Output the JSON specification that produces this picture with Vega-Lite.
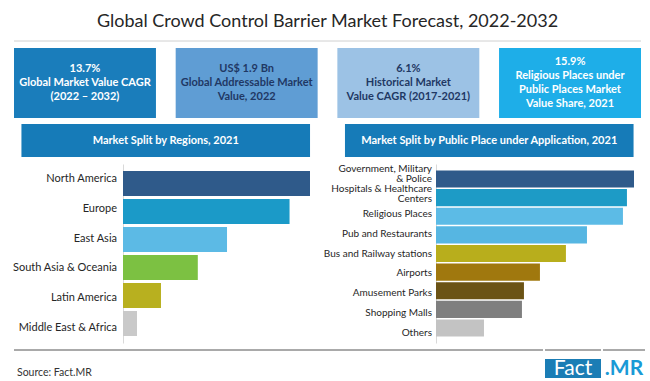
{
  "$schema": "https://vega.github.io/schema/vega-lite/v6.json",
  "background": "white",
  "padding": {"left": 12, "top": 0, "right": 11, "bottom": 0},
  "config": {"view": {"stroke": null}, "font": "Lato"},
  "spacing": 6,
  "resolve": {"scale": {"x": "independent", "y": "independent", "color": "independent", "fill": "independent"}},
  "vconcat": [
    {
      "width": 627,
      "height": 41,
      "data": {"values": [{"title": "Global Crowd Control Barrier Market Forecast, 2022-2032"}]},
      "layer": [
        {"mark": {"type": "text", "fontSize": 18, "color": "#262626", "baseline": "middle", "dy": 1.5}, "encoding": {"text": {"field": "title"}}},
        {"mark": {"type": "rule", "color": "#d0d0d0", "strokeWidth": 1}, "encoding": {"y": {"value": "height"}}}
      ]
    },
    {
      "width": 627,
      "height": 70,
      "data": {"values": [
        {"kpi": "cagr", "lines": ["13.7%", "Global Market Value CAGR", "(2022 – 2032)"]},
        {"kpi": "value", "lines": ["US$ 1.9 Bn", "Global Addressable Market", "Value, 2022"]},
        {"kpi": "hist", "lines": ["6.1%", "Historical Market", "Value CAGR (2017-2021)"]},
        {"kpi": "share", "lines": ["15.9%", "Religious Places under", "Public Places Market", "Value Share, 2021"]}
      ]},
      "encoding": {"x": {"field": "kpi", "type": "nominal", "sort": null, "axis": null, "scale": {"domain": ["cagr", "value", "hist", "share"], "paddingInner": 0.122, "paddingOuter": 0}}},
      "layer": [
        {"mark": {"type": "rect"}, "encoding": {"fill": {"field": "kpi", "type": "nominal", "legend": null, "scale": {"domain": ["cagr", "value", "hist", "share"], "range": ["#1a7dbb", "#5f9dd4", "#9cc2e5", "#1eaee8"]}}}},
        {
          "transform": [{"filter": "length(datum.lines) == 3"}],
          "mark": {"type": "text", "fontSize": 11, "fontWeight": "bold", "lineHeight": 14.3, "baseline": "middle", "dy": -14.3},
          "encoding": {"text": {"field": "lines"}, "color": {"field": "kpi", "type": "nominal", "legend": null, "scale": {"domain": ["cagr", "value", "hist", "share"], "range": ["#ffffff", "#1f3864", "#1f3864", "#ffffff"]}}}
        },
        {
          "transform": [{"filter": "length(datum.lines) == 4"}],
          "mark": {"type": "text", "fontSize": 11, "fontWeight": "bold", "lineHeight": 14.3, "baseline": "middle", "dy": -21.5},
          "encoding": {"text": {"field": "lines"}, "color": {"field": "kpi", "type": "nominal", "legend": null, "scale": {"domain": ["cagr", "value", "hist", "share"], "range": ["#ffffff", "#1f3864", "#1f3864", "#ffffff"]}}}
        }
      ]
    },
    {
      "width": 627,
      "height": 33,
      "data": {"values": [
        {"header": "Market Split by Regions, 2021"},
        {"header": "Market Split by Public Place under Application, 2021"}
      ]},
      "encoding": {"x": {"field": "header", "type": "nominal", "sort": null, "axis": null, "scale": {"paddingInner": 0.108, "paddingOuter": 0.023}}},
      "layer": [
        {"mark": {"type": "rect", "color": "#167bb8"}},
        {"mark": {"type": "text", "fontSize": 11, "fontWeight": "bold", "color": "#ffffff", "baseline": "middle"}, "encoding": {"text": {"field": "header"}}}
      ]
    },
    {
      "spacing": 0,
      "resolve": {"scale": {"x": "independent", "y": "independent", "color": "independent"}},
      "hconcat": [
        {
          "width": 109,
          "height": 179,
          "data": {"values": [
            {"region": "North America"},
            {"region": "Europe"},
            {"region": "East Asia"},
            {"region": "South Asia & Oceania"},
            {"region": "Latin America"},
            {"region": "Middle East & Africa"}
          ]},
          "mark": {"type": "text", "fontSize": 11, "color": "#262626", "align": "right", "baseline": "middle", "dx": -6},
          "encoding": {
            "y": {"field": "region", "type": "nominal", "sort": null, "axis": null, "scale": {"domain": ["North America", "Europe", "East Asia", "South Asia & Oceania", "Latin America", "Middle East & Africa"], "paddingInner": 0.107, "paddingOuter": 0.25}},
            "x": {"value": "width"},
            "text": {"field": "region"}
          }
        },
        {
          "width": 187,
          "height": 179,
          "data": {"values": [
            {"region": "North America", "share": 32.0},
            {"region": "Europe", "share": 28.5},
            {"region": "East Asia", "share": 17.8},
            {"region": "South Asia & Oceania", "share": 12.8},
            {"region": "Latin America", "share": 6.5},
            {"region": "Middle East & Africa", "share": 2.4}
          ]},
          "mark": {"type": "bar"},
          "encoding": {
            "y": {"field": "region", "type": "nominal", "sort": null, "scale": {"domain": ["North America", "Europe", "East Asia", "South Asia & Oceania", "Latin America", "Middle East & Africa"], "paddingInner": 0.107, "paddingOuter": 0.25}, "axis": {"title": null, "ticks": false, "labels": false, "domainColor": "#d9d9d9"}},
            "x": {"field": "share", "type": "quantitative", "axis": null, "scale": {"nice": false, "zero": true}},
            "color": {"field": "region", "type": "nominal", "legend": null, "scale": {"domain": ["North America", "Europe", "East Asia", "South Asia & Oceania", "Latin America", "Middle East & Africa"], "range": ["#2f5a8a", "#1b9ac8", "#5cbae5", "#7cc142", "#b8b01f", "#c9c9c9"]}}
          }
        },
        {
          "width": 126,
          "height": 179,
          "data": {"values": [
            {"place": "Government, Military & Police", "label": ["Government, Military", "& Police"]},
            {"place": "Hospitals & Healthcare Centers", "label": ["Hospitals & Healthcare", "Centers"]},
            {"place": "Religious Places", "label": "Religious Places"},
            {"place": "Pub and Restaurants", "label": "Pub and Restaurants"},
            {"place": "Bus and Railway stations", "label": "Bus and Railway stations"},
            {"place": "Airports", "label": "Airports"},
            {"place": "Amusement Parks", "label": "Amusement Parks"},
            {"place": "Shopping Malls", "label": "Shopping Malls"},
            {"place": "Others", "label": "Others"}
          ]},
          "encoding": {
            "y": {"field": "place", "type": "nominal", "sort": null, "axis": null, "scale": {"domain": ["Government, Military & Police", "Hospitals & Healthcare Centers", "Religious Places", "Pub and Restaurants", "Bus and Railway stations", "Airports", "Amusement Parks", "Shopping Malls", "Others"], "paddingInner": 0.087, "paddingOuter": 0.349}},
            "x": {"value": "width"},
            "text": {"field": "label"}
          },
          "layer": [
            {
              "transform": [{"filter": "!isArray(datum.label)"}],
              "mark": {"type": "text", "fontSize": 10, "color": "#262626", "align": "right", "baseline": "middle", "dx": -4}
            },
            {
              "transform": [{"filter": "isArray(datum.label)"}],
              "mark": {"type": "text", "fontSize": 10, "color": "#262626", "align": "right", "baseline": "middle", "dx": -4, "dy": -5, "lineHeight": 10}
            }
          ]
        },
        {
          "width": 198,
          "height": 179,
          "data": {"values": [
            {"place": "Government, Military & Police", "share": 16.84},
            {"place": "Hospitals & Healthcare Centers", "share": 16.24},
            {"place": "Religious Places", "share": 15.9},
            {"place": "Pub and Restaurants", "share": 12.84},
            {"place": "Bus and Railway stations", "share": 11.05},
            {"place": "Airports", "share": 8.84},
            {"place": "Amusement Parks", "share": 7.48},
            {"place": "Shopping Malls", "share": 7.31},
            {"place": "Others", "share": 4.08}
          ]},
          "mark": {"type": "bar"},
          "encoding": {
            "y": {"field": "place", "type": "nominal", "sort": null, "scale": {"domain": ["Government, Military & Police", "Hospitals & Healthcare Centers", "Religious Places", "Pub and Restaurants", "Bus and Railway stations", "Airports", "Amusement Parks", "Shopping Malls", "Others"], "paddingInner": 0.087, "paddingOuter": 0.349}, "axis": {"title": null, "ticks": false, "labels": false, "domainColor": "#d9d9d9"}},
            "x": {"field": "share", "type": "quantitative", "axis": null, "scale": {"nice": false, "zero": true}},
            "color": {"field": "place", "type": "nominal", "legend": null, "scale": {"domain": ["Government, Military & Police", "Hospitals & Healthcare Centers", "Religious Places", "Pub and Restaurants", "Bus and Railway stations", "Airports", "Amusement Parks", "Shopping Malls", "Others"], "range": ["#2f5a8a", "#1d9bc6", "#5cbbe6", "#56b6e2", "#b8ae1c", "#a0780e", "#6b5315", "#7f7f7f", "#c3c3c3"]}}
          }
        }
      ]
    },
    {
      "spacing": 0,
      "hconcat": [
        {
          "width": 529,
          "height": 34,
          "data": {"values": [{"src": "Source: Fact.MR"}]},
          "layer": [
            {"mark": {"type": "rule", "color": "#555555", "strokeWidth": 1}, "encoding": {"y": {"value": 0}}},
            {"mark": {"type": "text", "fontSize": 10.5, "color": "#333333", "align": "left", "baseline": "middle", "dx": 3}, "encoding": {"x": {"value": 0}, "y": {"value": 23}, "text": {"field": "src"}}}
          ]
        },
        {
          "width": 56,
          "height": 34,
          "data": {"values": [{"part": "Fact"}]},
          "layer": [
            {"mark": {"type": "rule", "color": "#555555", "strokeWidth": 1}, "encoding": {"y": {"value": 0}}},
            {"mark": {"type": "rect", "color": "#1b7db5"}, "encoding": {"x": {"value": 0}, "x2": {"value": "width"}, "y": {"value": 9}, "y2": {"value": 28}}},
            {"mark": {"type": "text", "fontSize": 21, "letterSpacing": 1, "color": "#ffffff", "baseline": "middle"}, "encoding": {"y": {"value": 19}, "text": {"field": "part"}}}
          ]
        },
        {
          "width": 42,
          "height": 34,
          "data": {"values": [{"part": ".MR"}]},
          "layer": [
            {"mark": {"type": "rule", "color": "#555555", "strokeWidth": 1}, "encoding": {"y": {"value": 0}}},
            {"mark": {"type": "text", "fontSize": 21, "fontWeight": "bold", "color": "#1a9ad6", "baseline": "middle"}, "encoding": {"y": {"value": 19}, "text": {"field": "part"}}}
          ]
        }
      ]
    }
  ]
}
